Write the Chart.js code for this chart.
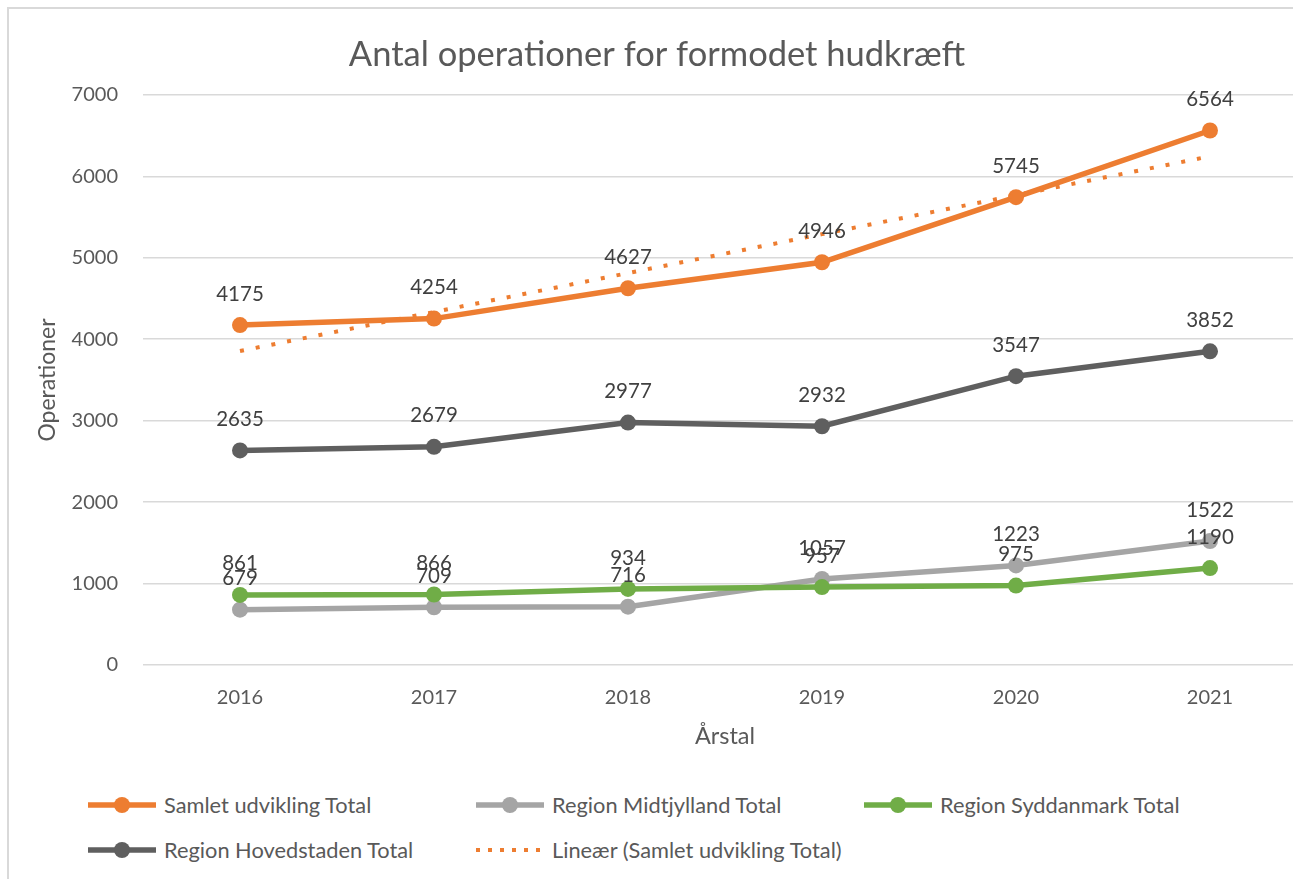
<!DOCTYPE html>
<html>
<head>
<meta charset="utf-8">
<script src="https://cdn.jsdelivr.net/npm/chart.js@4/dist/chart.umd.min.js"></script>
<style>
html,body{margin:0;padding:0;background:#fff;}
#page{position:relative;width:1293px;height:879px;overflow:hidden;background:#fff;font-family:Lato,"Noto Sans",sans-serif;}
#frame{position:absolute;left:7px;top:7px;width:1400px;height:1000px;border-left:2px solid #d9d9d9;border-top:2px solid #d9d9d9;}
#wrap{position:absolute;left:0;top:0;width:1315px;height:760px;}
#legend{position:absolute;left:88px;top:782px;display:grid;grid-template-columns:388px 388px 388px;grid-auto-rows:45px;}
.item{display:flex;align-items:center;height:45px;}
.item svg{flex:none;}
.item span{margin-left:8px;font-size:21.8px;color:#595959;white-space:nowrap;}
</style>
</head>
<body>
<div id="page">
  <div id="frame"></div>
  <div id="wrap"><canvas id="c"></canvas></div>
  <div id="legend"></div>
</div>
<script>
const years = ['2016', '2017', '2018', '2019', '2020', '2021'];
const samletUdvikling = [4175, 4254, 4627, 4946, 5745, 6564];
const regionMidtjylland = [679, 709, 716, 1057, 1223, 1522];
const regionSyddanmark = [861, 866, 934, 957, 975, 1190];
const regionHovedstaden = [2635, 2679, 2977, 2932, 3547, 3852];
const linearSamlet = [3856, 4335, 4813, 5291, 5769, 6247];
const yTickValues = [0, 1000, 2000, 3000, 4000, 5000, 6000, 7000];

const titleText = 'Antal operationer for formodet hudkræft';
const xTitle = 'Årstal';
const yTitle = 'Operationer';

const valueLabels = {
  id: 'valueLabels',
  afterDatasetsDraw(chart) {
    const ctx = chart.ctx;
    ctx.save();
    ctx.font = '20.5px Lato';
    ctx.fillStyle = '#404040';
    ctx.textAlign = 'center';
    ctx.textBaseline = 'middle';
    chart.data.datasets.forEach((ds, i) => {
      if (!ds.showValues) return;
      const meta = chart.getDatasetMeta(i);
      meta.data.forEach((pt, j) => {
        ctx.fillText(String(ds.data[j]), pt.x, pt.y - 31);
      });
    });
    ctx.restore();
  }
};

function lineSet(label, data, color, order) {
  return {
    label, data, order,
    borderColor: color, backgroundColor: color,
    pointBackgroundColor: color, pointBorderColor: color,
    borderWidth: 5.5, pointRadius: 8, pointHoverRadius: 8, pointBorderWidth: 0,
    tension: 0, fill: false, showValues: true
  };
}

const datasets = [
  lineSet('Samlet udvikling Total', samletUdvikling, '#ED7D31', 5),
  lineSet('Region Midtjylland Total', regionMidtjylland, '#A5A5A5', 4),
  lineSet('Region Syddanmark Total', regionSyddanmark, '#70AD47', 3),
  lineSet('Region Hovedstaden Total', regionHovedstaden, '#5F5F5F', 2),
  {
    label: 'Lineær (Samlet udvikling Total)', data: linearSamlet, order: 1,
    borderColor: '#ED7D31', backgroundColor: '#ED7D31', borderWidth: 4,
    borderDash: [4, 12], borderCapStyle: 'butt', pointRadius: 0, pointHoverRadius: 0,
    tension: 0, fill: false, showValues: false, isTrend: true
  }
];

const chart = new Chart(document.getElementById('c'), {
  type: 'line',
  data: { labels: years, datasets },
  plugins: [valueLabels],
  options: {
    responsive: true,
    maintainAspectRatio: false,
    animation: false,
    events: [],
    layout: { padding: { top: 10, left: 2, right: 3, bottom: 0 } },
    plugins: {
      legend: { display: false },
      tooltip: { enabled: false },
      title: {
        display: true, text: titleText, color: '#595959',
        font: { family: 'Lato', size: 34.5, weight: 'normal', lineHeight: 1.2 },
        padding: { top: 24, bottom: 19.6 }
      }
    },
    scales: {
      x: {
        offset: true,
        grid: { display: false, drawTicks: false },
        border: { display: false },
        ticks: { color: '#595959', font: { family: 'Lato', size: 20 }, padding: 21, maxRotation: 0 },
        title: { display: true, text: xTitle, color: '#595959', font: { family: 'Lato', size: 23.5, lineHeight: 1.2 }, padding: { top: 0, bottom: 9 } },
        afterFit: s => { s.height = 95; }
      },
      y: {
        min: 0, max: 7000,
        afterBuildTicks: s => { s.ticks = yTickValues.map(v => ({ value: v })); },
        grid: { color: '#d9d9d9', lineWidth: 1.6, drawTicks: false },
        border: { display: false },
        ticks: { color: '#595959', font: { family: 'Lato', size: 20 }, padding: 25, callback: v => String(v) },
        title: { display: true, text: yTitle, color: '#595959', font: { family: 'Lato', size: 23, lineHeight: 1.2 }, padding: { top: 32, bottom: 0 } },
        afterFit: s => { s.width = 141; }
      }
    }
  }
});

// HTML legend built from the chart's datasets
const legendEl = document.getElementById('legend');
const NS = 'http://www.w3.org/2000/svg';
chart.data.datasets.forEach(ds => {
  const item = document.createElement('div');
  item.className = 'item';
  const svg = document.createElementNS(NS, 'svg');
  svg.setAttribute('width', '68');
  svg.setAttribute('height', '20');
  const line = document.createElementNS(NS, 'line');
  line.setAttribute('x1', '0'); line.setAttribute('x2', '68');
  line.setAttribute('y1', '10'); line.setAttribute('y2', '10');
  line.setAttribute('stroke', ds.borderColor);
  if (ds.isTrend) {
    line.setAttribute('stroke-width', '4');
    line.setAttribute('stroke-dasharray', '4 8');
  } else {
    line.setAttribute('stroke-width', '5.5');
  }
  svg.appendChild(line);
  if (!ds.isTrend) {
    const c = document.createElementNS(NS, 'circle');
    c.setAttribute('cx', '34'); c.setAttribute('cy', '10'); c.setAttribute('r', '8');
    c.setAttribute('fill', ds.borderColor);
    svg.appendChild(c);
  }
  const span = document.createElement('span');
  span.textContent = ds.label;
  item.appendChild(svg);
  item.appendChild(span);
  legendEl.appendChild(item);
});
</script>
</body>
</html>
